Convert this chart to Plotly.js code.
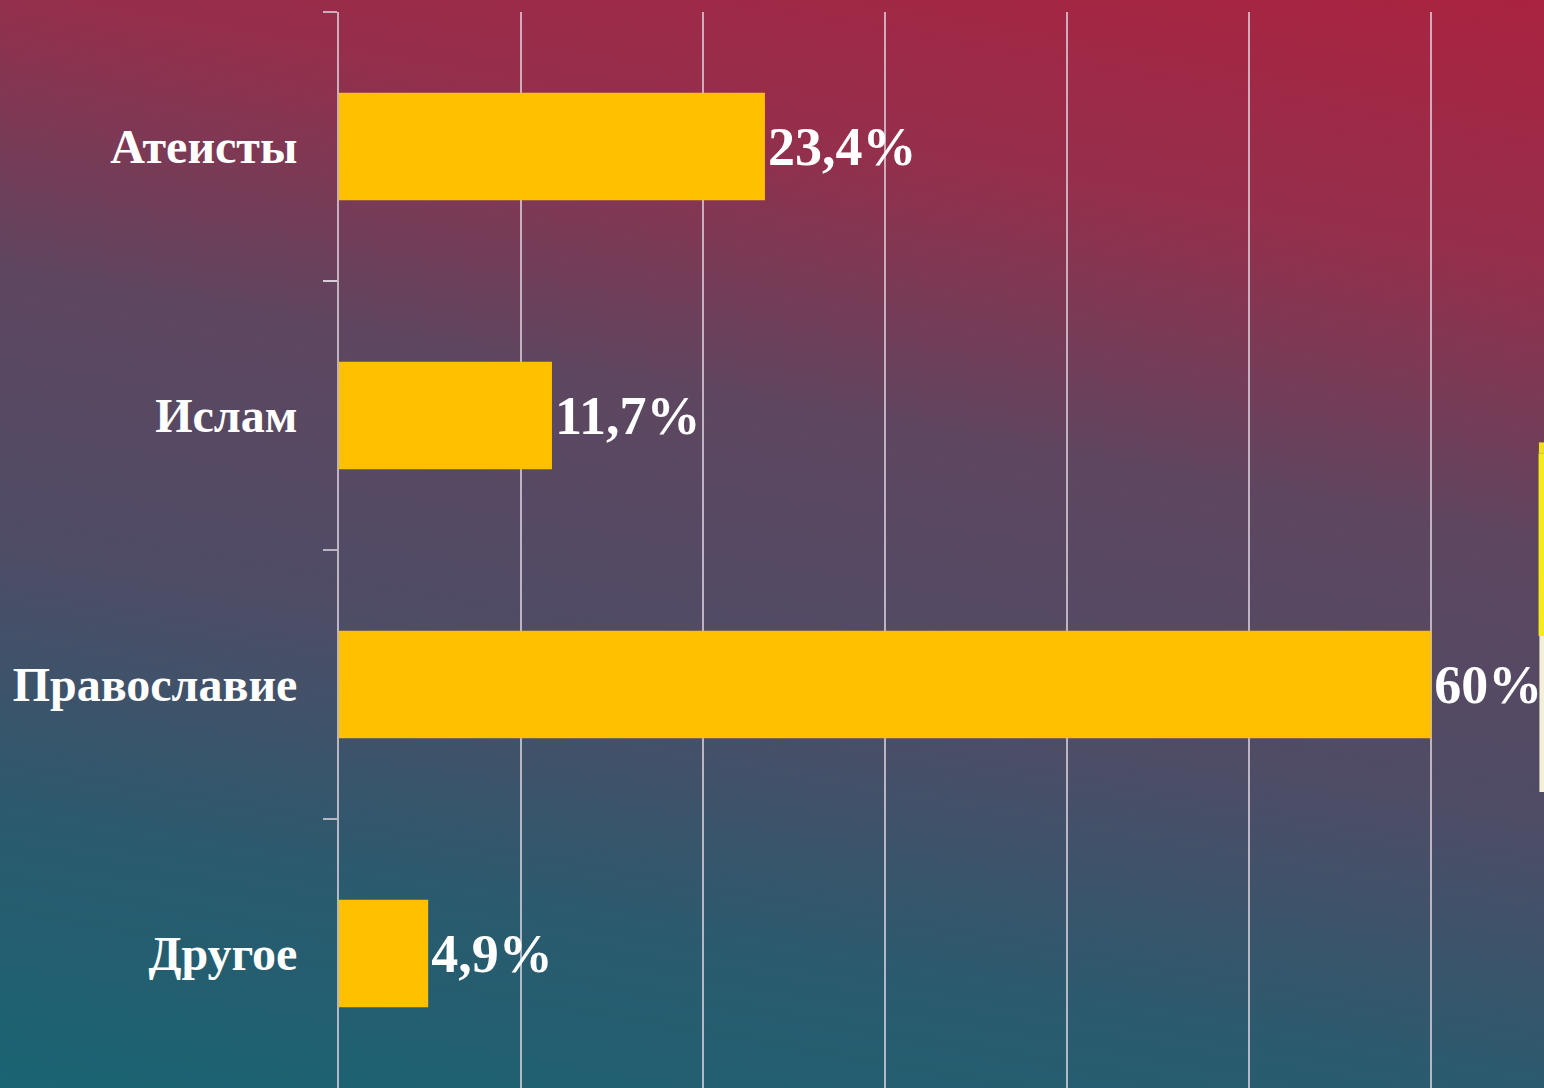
<!DOCTYPE html>
<html>
<head>
<meta charset="utf-8">
<script src="https://cdn.plot.ly/plotly-3.0.1.min.js"></script>
<style>
  html, body { margin: 0; padding: 0; width: 1544px; height: 1088px; overflow: hidden; }
  body {
    background: linear-gradient(190deg, #aa2340 0%, #942f4c 20%, #5e4660 40%, #4f4c66 60%, #2b5a6e 80%, #1a6473 100%);
  }
  #chart { width: 1544px; height: 1088px; }
</style>
</head>
<body>
<div id="chart"></div>
<script>
const categories = ["Атеисты", "Ислам", "Православие", "Другое"];
const values = [23.4, 11.7, 60, 4.9];
const valueLabels = ["23,4%", "11,7%", "60%", "4,9%"];

const axisColor = "rgba(225,215,225,0.75)";
const labelFont = { family: "Liberation Serif, Times New Roman, serif", size: 48, color: "#ffffff", weight: 700 };

const trace = {
  type: "bar",
  orientation: "h",
  y: categories,
  x: values,
  text: valueLabels,
  textposition: "outside",
  constraintext: "none",
  cliponaxis: false,
  textfont: { family: "Liberation Serif, Times New Roman, serif", size: 54, color: "#ffffff", weight: 700 },
  marker: { color: "#ffc000", line: { width: 0 } },
  width: 0.4,
  hoverinfo: "skip"
};

const layout = {
  width: 1544,
  height: 1088,
  margin: { l: 339, r: 0, t: 12, b: 0, pad: 0 },
  paper_bgcolor: "rgba(0,0,0,0)",
  plot_bgcolor: "rgba(0,0,0,0)",
  showlegend: false,
  xaxis: {
    range: [0, 66.2],
    dtick: 10,
    tick0: 0,
    showgrid: true,
    gridcolor: axisColor,
    gridwidth: 1.5,
    zeroline: false,
    showticklabels: false,
    ticks: "",
    showline: false,
    fixedrange: true
  },
  yaxis: {
    type: "category",
    autorange: "reversed",
    showline: true,
    linecolor: axisColor,
    linewidth: 2,
    ticks: "outside",
    tickson: "boundaries",
    ticklen: 14,
    tickwidth: 2,
    tickcolor: axisColor,
    showgrid: false,
    zeroline: false,
    tickfont: labelFont,
    ticklabelstandoff: 30,
    fixedrange: true
  },
  shapes: [
    { type: "rect", xref: "paper", yref: "paper", x0: 0.9958, x1: 1.0, y0: 0.59, y1: 0.60, fillcolor: "#f0e020", line: { width: 0 }, layer: "below" },
    { type: "rect", xref: "paper", yref: "paper", x0: 0.9955, x1: 1.0, y0: 0.42, y1: 0.59, fillcolor: "#f4ea1c", line: { width: 0 }, layer: "below" },
    { type: "rect", xref: "paper", yref: "paper", x0: 0.9962, x1: 1.0, y0: 0.275, y1: 0.42, fillcolor: "#f3efd6", line: { width: 0 }, layer: "below" }
  ]
};

Plotly.newPlot("chart", [trace], layout, { displayModeBar: false, staticPlot: true });
</script>
</body>
</html>
